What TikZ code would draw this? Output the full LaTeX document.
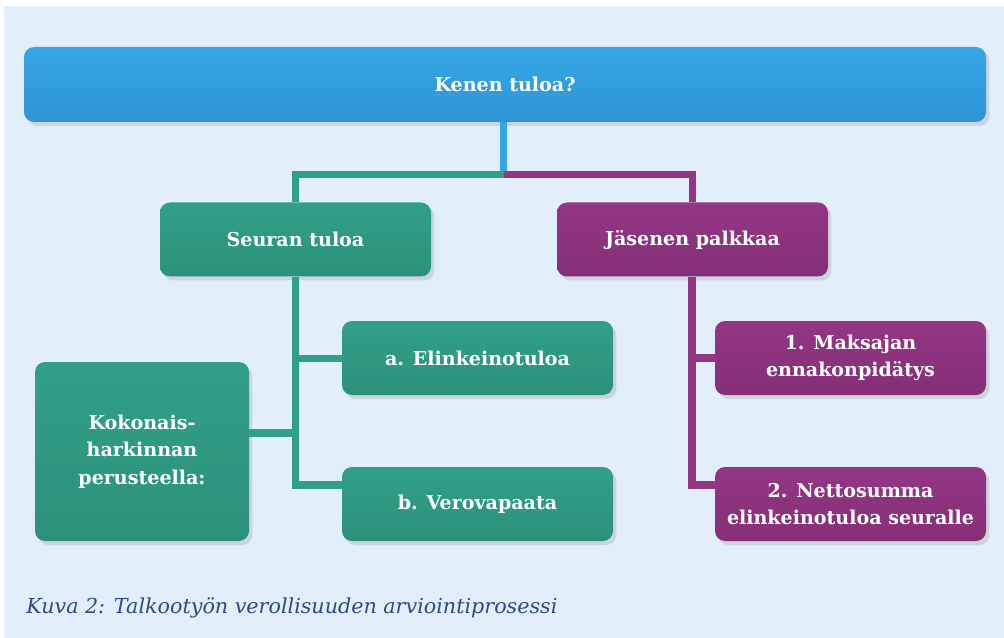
\documentclass[tikz,border=0pt]{standalone}
\usepackage{fontspec}
\setmainfont{DejaVu Serif}
\usetikzlibrary{shadows}
\definecolor{bgc}{HTML}{E2EEF9}
\definecolor{bluec}{HTML}{35A6E6}
\definecolor{blued}{HTML}{2F95D5}
\definecolor{greenc}{HTML}{31A088}
\definecolor{greend}{HTML}{2C917B}
\definecolor{purplec}{HTML}{933684}
\definecolor{purpled}{HTML}{852F77}
\definecolor{capc}{HTML}{2F4A86}
\tikzset{
  box/.style={rounded corners=7.5pt, text=white, align=center,
    font=\bfseries\fontsize{14.3}{20.5}\selectfont,
    drop shadow={opacity=0.22, shadow xshift=2.5pt, shadow yshift=-3pt}},
  bluebox/.style={box, top color=bluec, bottom color=blued},
  greenbox/.style={box, top color=greenc, bottom color=greend},
  purplebox/.style={box, top color=purplec, bottom color=purpled},
  wide/.style={minimum width={962*0.75pt}, minimum height={75*0.75pt}},
  mid/.style={minimum width={271*0.75pt}, minimum height={74*0.75pt}},
  tall/.style={minimum width={214*0.75pt}, minimum height={179*0.75pt}},
  conn/.style={line width=5.5pt},
}
\begin{document}
\begin{tikzpicture}[x=0.75pt,y=-0.75pt]
\useasboundingbox (0,0) rectangle (1004,638);
\fill[white] (0,0) rectangle (1004,638);
\fill[bgc] (4,6) rectangle (1004,638);

% nodes
\node[bluebox, wide] (top) at (505,84.5) {Kenen tuloa?};
\node[greenbox, mid] (seura) at (295.5,239.5) {Seuran tuloa};
\node[purplebox, mid] (jasen) at (692.5,239.5) {Jäsenen palkkaa};
\node[greenbox, mid] (a) at (477.5,358) {a. Elinkeinotuloa};
\node[greenbox, mid] (b) at (477.5,504) {b. Verovapaata};
\node[greenbox, tall] (k) at (142,451.5) {Kokonais-\\harkinnan\\perusteella:};
\node[purplebox, mid] (p1) at (850.5,358) {1. Maksajan\\ennakonpidätys};
\node[purplebox, mid] (p2) at (850.5,504) {2. Nettosumma\\elinkeinotuloa seuralle};

\coordinate (hub) at (503.5,174.5);
\coordinate (gtop) at (295.5,174.5);
\coordinate (ptop) at (692.5,174.5);
\coordinate (gv1) at (295.5,358.5);
\coordinate (gv2) at (295.5,433);
\coordinate (gv3) at (295.5,485);
\coordinate (pv1) at (692,358);
\coordinate (pv3) at (692,485);

% connectors
\draw[conn, bluec] (top.south -| hub) -- ([yshift=-2.75pt]hub);
\draw[conn, greenc] (hub) -- (gtop) -- (seura.north);
\draw[conn, purplec] (hub) -- (ptop) -- (jasen.north);
\draw[conn, greenc] (seura.south) -- ([yshift=-2.75pt]gv3);
\draw[conn, greenc] (gv1) -- (a.west |- gv1);
\draw[conn, greenc] (gv2) -- (k.east |- gv2);
\draw[conn, greenc] (gv3) -- (b.west |- gv3);
\draw[conn, purplec] (jasen.south -| pv1) -- ([yshift=-2.75pt]pv3);
\draw[conn, purplec] (pv1) -- (p1.west |- pv1);
\draw[conn, purplec] (pv3) -- (p2.west |- pv3);

\node[anchor=base west, inner sep=0pt, text=capc, font=\itshape\fontsize{15.5}{18}\selectfont] (cap) at (26,613) {Kuva 2: Talkootyön verollisuuden arviointiprosessi};
\end{tikzpicture}
\end{document}
